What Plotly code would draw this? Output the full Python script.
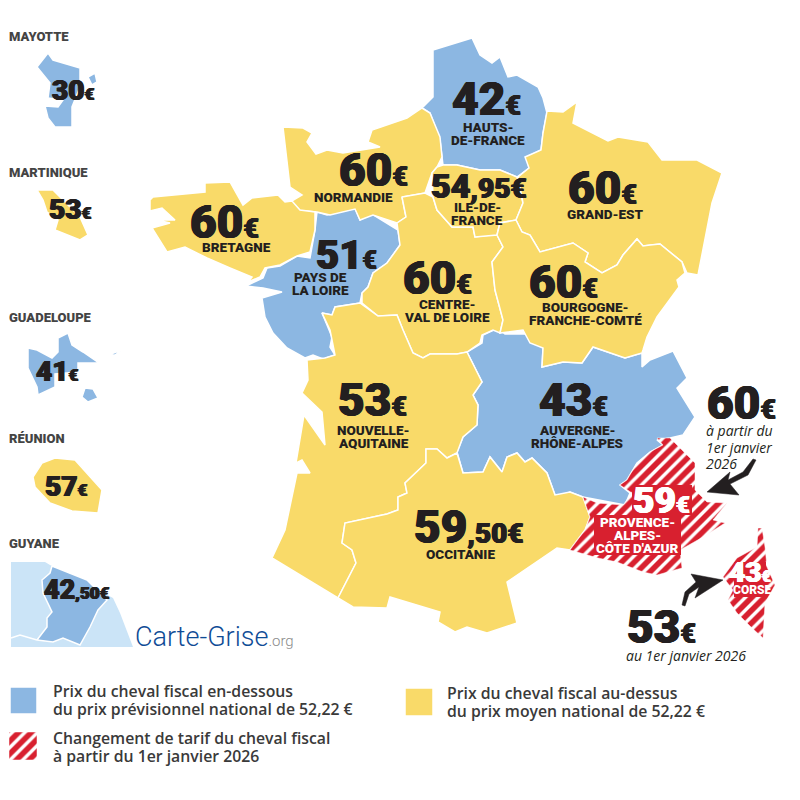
import plotly.graph_objects as go

BLUE = "#8cb7e2"
YELLOW = "#f9da69"
RED = "#d8202f"
DARK = "#231f20"
GREY = "#444444"

# outlines, in picture pixels
HAUTS_DE_FRANCE = [(433,50),(472,38),(480,55),(492,63),(500,57),(508,77),(517,75),(538,87),(543,98),(547,113),(543,133),(541,150),(527,157),(529,168),(517,177),(500,170),(480,170),(457,165),(443,165),(440,140),(430,113),(422,108),(433,97)]
NORMANDIE = [(283,127),(303,128),(312,133),(307,142),(316,154),(327,150),(343,153),(380,147),(368,142),(372,130),(407,118),(422,108),(430,113),(440,137),(442,157),(437,167),(432,173),(425,193),(402,197),(406,217),(397,223),(373,215),(360,220),(355,209),(330,215),(317,212),(293,210),(290,202),(302,195),(290,187)]
BRETAGNE = [(150,200),(153,197),(205,192),(205,183),(230,182),(243,205),(252,198),(278,195),(285,202),(292,201),(300,210),(315,212),(315,230),(310,252),(297,256),(280,265),(265,268),(260,277),(248,282),(252,277),(230,268),(207,258),(185,247),(167,252),(152,228),(170,223),(157,220),(175,220),(162,208),(150,211)]
PAYS_DE_LA_LOIRE = [(317,212),(327,215),(355,208),(360,220),(372,214),(398,230),(400,245),(387,263),(373,273),(368,287),(362,293),(360,303),(335,307),(332,315),(322,313),(332,337),(330,347),(335,355),(323,359),(313,355),(305,358),(287,348),(273,333),(265,317),(262,298),(282,292),(263,288),(246,286),(263,278),(267,268),(280,266),(297,256),(310,258),(315,230)]
CENTRE_VAL_DE_LOIRE = [(402,197),(425,193),(433,197),(437,210),(452,227),(473,227),(475,237),(490,235),(497,235),(503,247),(492,262),(495,290),(503,320),(500,333),(493,330),(482,335),(480,343),(467,352),(457,354),(430,354),(423,358),(413,353),(403,330),(397,315),(378,316),(362,303),(362,293),(368,287),(373,273),(387,263),(400,245),(398,230),(397,223),(406,217)]
ILE_DE_FRANCE = [(437,167),(443,165),(457,165),(480,170),(500,170),(517,177),(523,203),(516,220),(500,223),(497,235),(475,237),(473,227),(452,227),(437,210),(433,197),(432,173)]
GRAND_EST = [(547,111),(563,112),(577,102),(573,123),(608,141),(618,137),(648,142),(662,160),(697,160),(722,173),(712,203),(707,230),(698,275),(687,273),(682,262),(660,244),(650,245),(643,246),(637,239),(623,255),(617,265),(602,273),(585,262),(588,253),(573,243),(540,252),(530,235),(522,232),(516,220),(523,203),(518,177),(529,168),(525,157),(541,150),(543,133)]
BOURGOGNE_FC = [(497,235),(500,223),(516,220),(522,232),(530,235),(540,252),(573,243),(588,253),(585,262),(602,273),(617,265),(623,255),(637,239),(643,246),(650,245),(660,244),(682,262),(685,273),(677,280),(679,287),(657,317),(647,337),(643,350),(642,353),(625,358),(593,347),(582,363),(563,362),(542,367),(543,348),(530,343),(523,330),(500,333),(503,320),(495,290),(492,262),(503,247)]
AUVERGNE_RA = [(467,352),(482,343),(483,335),(498,328),(505,334),(528,334),(543,348),(542,367),(563,362),(582,363),(593,347),(625,358),(642,353),(642,367),(650,360),(673,351),(687,378),(677,388),(695,417),(683,435),(670,438),(657,440),(663,445),(650,452),(637,463),(627,480),(620,485),(630,493),(625,505),(610,502),(583,497),(570,492),(560,496),(555,495),(547,473),(532,458),(525,462),(517,453),(507,457),(502,472),(490,457),(483,472),(463,473),(457,452),(463,437),(477,425),(478,405),(473,395),(482,382)]
NOUVELLE_AQUITAINE = [(307,360),(325,358),(335,355),(332,340),(330,330),(322,313),(332,315),(335,307),(360,303),(378,316),(397,315),(403,330),(413,353),(423,358),(430,354),(457,354),(467,352),(482,382),(473,395),(478,405),(477,425),(463,437),(457,453),(447,458),(437,449),(426,449),(426,463),(405,483),(407,493),(398,497),(398,510),(387,514),(345,523),(342,543),(352,550),(356,563),(338,598),(272,558),(285,530),(297,473),(310,473),(302,460),(296,463),(304,415),(325,445),(322,412),(302,393),(308,380)]
OCCITANIE = [(457,453),(463,473),(483,472),(490,457),(502,472),(507,457),(517,453),(525,462),(532,458),(547,473),(555,495),(570,492),(583,497),(590,517),(585,530),(570,550),(557,548),(507,582),(517,623),(487,633),(467,627),(455,632),(438,622),(440,612),(390,597),(387,608),(353,607),(338,598),(356,563),(352,550),(342,543),(345,523),(387,514),(398,510),(398,497),(407,493),(405,483),(426,463),(426,449),(437,449),(447,458)]
PACA = [(657,438),(670,438),(695,463),(695,490),(707,502),(727,503),(713,520),(725,523),(703,537),(680,550),(682,568),(657,575),(643,572),(617,562),(598,558),(570,550),(585,530),(590,517),(583,497),(597,503),(623,505),(632,493),(620,485),(627,480),(637,463),(650,452),(663,445)]
CORSE = [(758,528),(762,528),(765,547),(767,567),(775,585),(765,603),(763,638),(752,628),(737,613),(728,600),(733,590),(723,577),(737,558),(757,547)]
MAYOTTE = [(48,53),(53,60),(80,68),(80,87),(72,107),(72,127),(55,127),(48,118),(45,106),(58,107),(63,100),(48,98),(50,83),(37,67)]
MAYOTTE_PETITE = [(88,77),(95,73),(97,82),(92,85)]
MARTINIQUE = [(37,190),(53,190),(65,202),(80,217),(88,235),(80,240),(55,230),(58,220),(47,212),(43,200)]
GUADELOUPE = [(28,348),(37,350),(52,358),(58,352),(58,343),(58,338),(68,333),(72,345),(83,352),(99,363),(78,363),(78,372),(55,374),(55,387),(38,395),(37,387),(28,368)]
MARIE_GALANTE = [(85,388),(93,389),(98,398),(88,402),(82,397)]
DESIRADE = [(108,355),(122,350),(115,355)]
REUNION = [(55,458),(75,460),(102,490),(98,513),(72,511),(50,503),(35,487),(33,477),(42,463)]
GUYANE_FOND = [(11,562),(45,562),(50,565),(113,598),(120,613),(133,647),(11,647)]
GUYANE = [(52,566),(62,570),(87,580),(107,600),(98,610),(90,627),(80,645),(63,638),(53,642),(37,640),(47,627),(47,618),(52,612),(43,593),(42,580),(50,573)]
GUYANE_TRAIT_X = [11, 20, 37]
GUYANE_TRAIT_Y = [638, 635, 640]
FLECHE_60 = [(756,460),(748,475),(730,484),(739,495),(707,492),(730,472),(728,480),(743,472),(753,459)]
FLECHE_53 = [(682,605),(685,592),(696,582),(691,574),(723,580),(695,598),(699,587),(689,594),(685,606)]
CARRE_BLEU = [(10,687),(37,687),(37,714),(10,714)]
CARRE_JAUNE = [(405,688),(433,688),(433,716),(405,716)]
CARRE_RAYE = [(9,732),(37,732),(37,760),(9,760)]

BLUE_SHAPES = [HAUTS_DE_FRANCE, PAYS_DE_LA_LOIRE, AUVERGNE_RA, MAYOTTE, MAYOTTE_PETITE, GUADELOUPE, MARIE_GALANTE, DESIRADE, GUYANE, CARRE_BLEU]
YELLOW_SHAPES = [NORMANDIE, BRETAGNE, CENTRE_VAL_DE_LOIRE, ILE_DE_FRANCE, GRAND_EST, BOURGOGNE_FC, NOUVELLE_AQUITAINE, OCCITANIE, MARTINIQUE, REUNION, CARRE_JAUNE]
HATCHED_SHAPES = [PACA, CORSE, CARRE_RAYE]

# big prices: whole part, decimals
PRICE_WHOLE = ["42", "60", "54", "60", "60", "51", "60", "60", "53", "43", "59", "60", "53"]
PRICE_CENTS = ["", "", ",95", "", "", "", "", "", "", "", ",50", "", ""]
PRICE_X = [452, 339, 431, 568, 190, 316, 403, 529, 338, 539, 414, 707, 627]
PRICE_Y = [99, 170, 186, 188, 222, 255, 278, 282, 400, 400, 527, 403, 627]
PRICE_SIZE = [46, 46, 34, 46, 46, 40, 46, 46, 46, 46, 46, 46, 46]
PRICE_SMALL = [27, 27, 28, 27, 27, 25, 27, 27, 27, 27, 28, 27, 27]

REGION_LABELS = [["HAUTS-", "DE-FRANCE"], ["NORMANDIE"], ["ILE-DE-", "FRANCE"], ["GRAND-EST"], ["BRETAGNE"], ["PAYS DE", "LA LOIRE"], ["CENTRE-", "VAL DE LOIRE"], ["BOURGOGNE-", "FRANCHE-COMTÉ"], ["NOUVELLE-", "AQUITAINE"], ["AUVERGNE-", "RHÔNE-ALPES"], ["OCCITANIE"]]
LABEL_X = [488, 353, 477, 605, 236, 320, 447, 585, 373, 577, 460]
LABEL_Y = [127, 197, 207, 214, 247, 277, 304, 307, 430, 430, 554]

OUTRE_MER = ["MAYOTTE", "MARTINIQUE", "GUADELOUPE", "RÉUNION", "GUYANE"]
OUTRE_MER_Y = [36, 172, 317, 438, 543]
OUTRE_PRICE = ["30", "53", "41", "57", "42"]
OUTRE_CENTS = ["", "", "", "", ",50"]
OUTRE_PRICE_X = [52, 49, 36, 45, 44]
OUTRE_PRICE_Y = [90, 209, 371, 486, 590]
OUTRE_SMALL = [17, 17, 17, 17, 17]

LEGEND_TEXT = ["Prix du cheval fiscal en-dessous", "du prix prévisionnel national de 52,22 €",
               "Changement de tarif du cheval fiscal", "à partir du 1er janvier 2026",
               "Prix du cheval fiscal au-dessus", "du prix moyen national de 52,22 €"]
LEGEND_X = [53, 53, 53, 53, 447, 447]
LEGEND_Y = [691, 709, 738, 756, 693, 711]

NOTE_TEXT = ["à partir du", "1er janvier", "2026", "au 1er janvier 2026"]
NOTE_X = [706, 706, 706, 626]
NOTE_Y = [430, 447, 463, 655]

NUM_FONT = "Roboto"
LABEL_FONT = "Roboto"
THICK = "0.7px 0 0 {0}, -0.7px 0 0 {0}, 0 0.4px 0 {0}"


def add_shape(fig, points, **kwargs):
    fig.add_trace(go.Scatter(
        x=[p[0] for p in points] + [points[0][0]],
        y=[p[1] for p in points] + [points[0][1]],
        mode="lines",
        fill="toself",
        hoverinfo="skip",
        showlegend=False,
        **kwargs
    ))


def label(fig, x, y, text, size, color=DARK, family=LABEL_FONT, weight=900, anchor="center", style="normal", shadow=None):
    font = dict(family=family, size=size, color=color, weight=weight, style=style)
    if shadow:
        font["shadow"] = shadow
    fig.add_annotation(
        x=x, y=y, text=text, showarrow=False,
        xref="x", yref="y", xanchor=anchor, yanchor="middle",
        borderpad=0, borderwidth=0, font=font
    )


def price(fig, x, y, whole, cents, size, small, color=DARK):
    text = f"{whole}<span style='font-size:{small}px'>{cents}€</span>"
    label(fig, x, y, text, size, color=color, family=NUM_FONT, anchor="left", shadow=THICK.format(color))


fig = go.Figure()

add_shape(fig, GUYANE_FOND, fillcolor="#cbe4f7", line=dict(color="#cbe4f7", width=0))
fig.add_trace(go.Scatter(x=GUYANE_TRAIT_X, y=GUYANE_TRAIT_Y, mode="lines", hoverinfo="skip",
                         showlegend=False, line=dict(color="white", width=1.5)))
for points in BLUE_SHAPES:
    add_shape(fig, points, fillcolor=BLUE, line=dict(color="white", width=1.5))
for points in YELLOW_SHAPES:
    add_shape(fig, points, fillcolor=YELLOW, line=dict(color="white", width=1.5))
for points in HATCHED_SHAPES:
    add_shape(fig, points, fillcolor="white", line=dict(color="white", width=0.5),
              fillpattern=dict(shape="/", fgcolor=RED, bgcolor="white", fgopacity=1, size=9, solidity=0.62))
add_shape(fig, FLECHE_60, fillcolor=DARK, line=dict(color=DARK, width=0.5))
add_shape(fig, FLECHE_53, fillcolor=DARK, line=dict(color=DARK, width=0.5))

for w, c, x, y, s, sm in zip(PRICE_WHOLE, PRICE_CENTS, PRICE_X, PRICE_Y, PRICE_SIZE, PRICE_SMALL):
    price(fig, x, y, w, c, s, sm)
for lines, x, y in zip(REGION_LABELS, LABEL_X, LABEL_Y):
    for i, line in enumerate(lines):
        label(fig, x, y + i * 13, line, 13.5)

# PACA and Corse sit on red boxes with white text
fig.add_shape(type="rect", x0=632, x1=692, y0=485, y1=515, fillcolor=RED, line_width=0)
fig.add_shape(type="rect", x0=594, x1=681, y0=515, y1=555, fillcolor=RED, line_width=0)
fig.add_shape(type="rect", x0=734, x1=766, y0=562, y1=597, fillcolor=RED, line_width=0)
price(fig, 633, 500, "59", "", 37, 24, color="white")
for i, line in enumerate(["PROVENCE-", "ALPES-", "CÔTE D'AZUR"]):
    label(fig, 637, 522 + i * 13, line, 13.5, color="white")
price(fig, 729, 572, "43", "", 28, 16, color="white")
label(fig, 752, 590, "CORSE", 12, color="white")

for name, y in zip(OUTRE_MER, OUTRE_MER_Y):
    label(fig, 9, y, name, 13, color=GREY, anchor="left")
for w, c, x, y, sm in zip(OUTRE_PRICE, OUTRE_CENTS, OUTRE_PRICE_X, OUTRE_PRICE_Y, OUTRE_SMALL):
    price(fig, x, y, w, c, 28 if not c else 27, sm)

for t, x, y in zip(NOTE_TEXT, NOTE_X, NOTE_Y):
    label(fig, x, y, t, 14, family="Open Sans", weight=400, anchor="left", style="italic")

fig.add_annotation(
    x=133, y=637, text="Carte-Grise<span style='font-size:15px;color:#8a8a8a'>.org</span>",
    showarrow=False, xanchor="left", yanchor="middle",
    font=dict(family="Roboto", size=27, color="#0f4c96", weight=300)
)

for t, x, y in zip(LEGEND_TEXT, LEGEND_X, LEGEND_Y):
    label(fig, x, y, t, 15.8, color="#3a3a3a", family="Open Sans", weight=600, anchor="left")

fig.update_xaxes(range=[0, 800], visible=False, fixedrange=True)
fig.update_yaxes(range=[800, 0], visible=False, fixedrange=True)
fig.update_layout(
    width=800, height=800,
    margin=dict(l=0, r=0, t=0, b=0),
    paper_bgcolor="white", plot_bgcolor="white",
    showlegend=False
)

fig.write_html("out.html", config=dict(displayModeBar=False), post_script="document.body.style.margin='0';")
